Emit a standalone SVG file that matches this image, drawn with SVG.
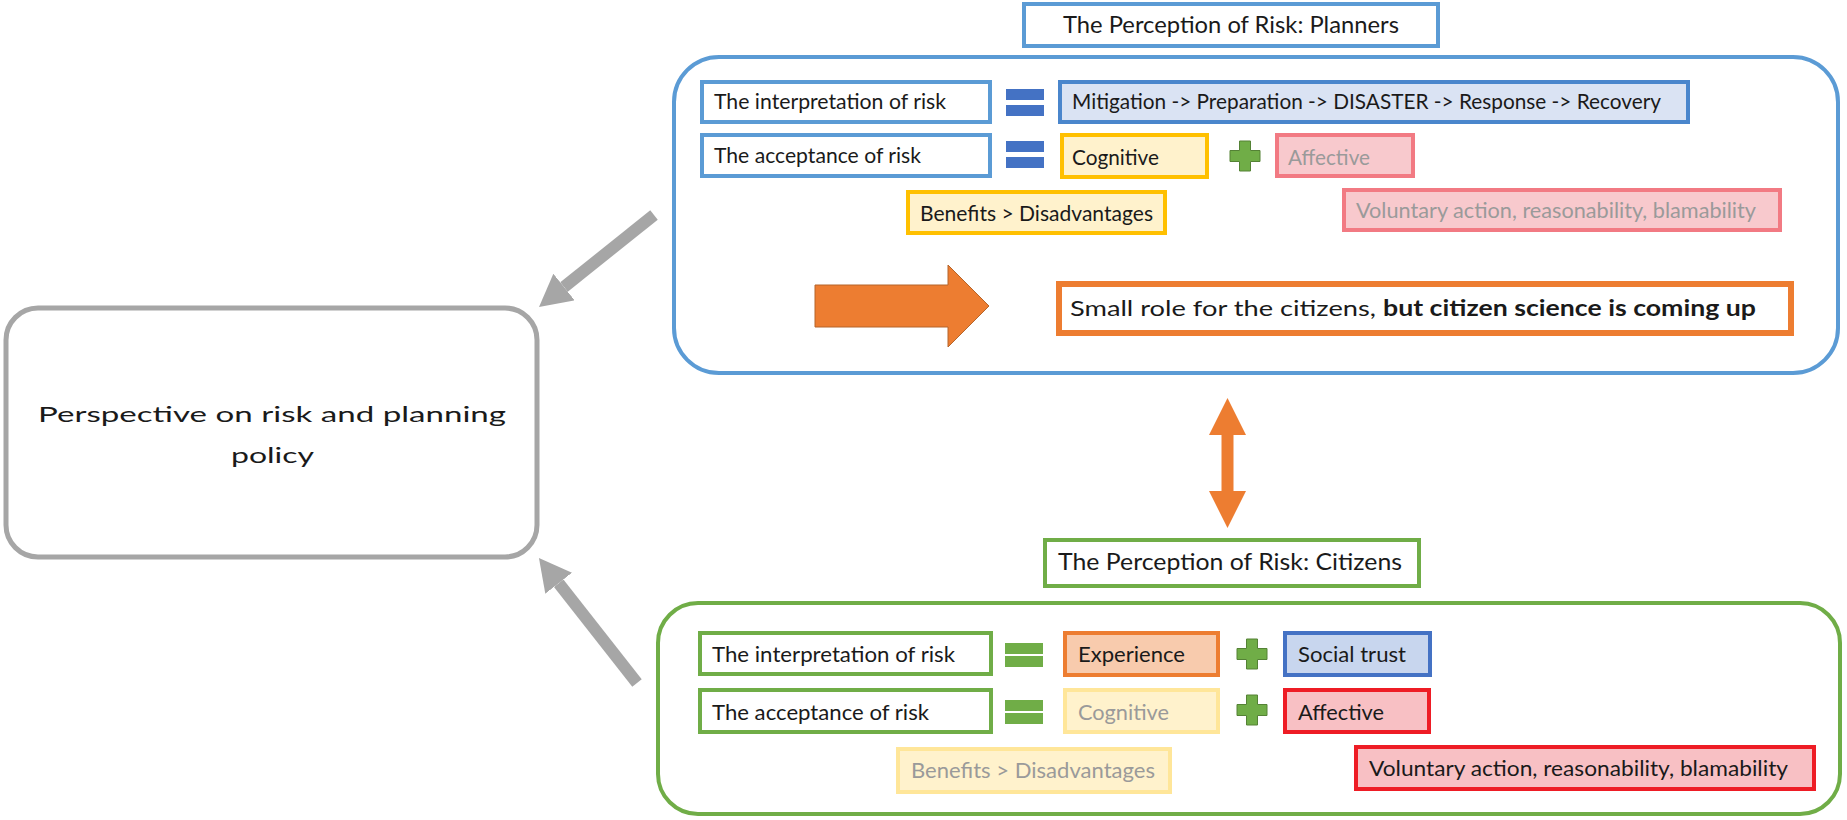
<svg xmlns="http://www.w3.org/2000/svg" xmlns:xlink="http://www.w3.org/1999/xlink" width="1847" height="820" viewBox="0 0 1847 820">
<style>
text{font-family:Lato,"Open Sans","Liberation Sans",sans-serif;fill:#1a1a1a;font-size:22px}
.big{fill:none;stroke-width:4}
.bx{stroke-width:4}
.pl{fill:#fff;stroke:#5b9bd5}
.ci{fill:#fff;stroke:#70ad47}
.yel{fill:#fff2cc;stroke:#ffc000}
.yelf{fill:#fff2cc;stroke:#ffe699}
.pinkf{fill:#f8c9cd;stroke:#f27a83}
.red{fill:#f8c0c4;stroke:#ee1c25}
.grey{fill:#9a9a9a}
.ttl{font-size:24px}
</style>
<defs>
<marker id="gh" markerUnits="userSpaceOnUse" viewBox="0 0 32 34" refX="0" refY="17" markerWidth="32" markerHeight="34" orient="auto"><path d="M0,0 L32,17 L0,34 z" fill="#a6a6a6"/></marker>
<marker id="oh" markerUnits="userSpaceOnUse" viewBox="0 0 37 37" refX="0" refY="18.5" markerWidth="37" markerHeight="37" orient="auto-start-reverse"><path d="M0,0 L37,18.5 L0,37 z" fill="#ed7d31"/></marker>
<path id="plus" d="M-5.5,-15 H5.5 V-5.5 H15 V5.5 H5.5 V15 H-5.5 V5.5 H-15 V-5.5 H-5.5 z" fill="#70ad47" stroke="#548235" stroke-width="1"/>
<g id="eqb"><rect x="0" y="0" width="38" height="11" fill="#4472c4"/><rect x="0" y="16" width="38" height="11" fill="#4472c4"/></g>
<g id="eqg"><rect x="0" y="0" width="38" height="11" fill="#70ad47"/><rect x="0" y="13" width="38" height="11" fill="#70ad47"/></g>
</defs>

<g id="policy">
<rect x="6" y="308" width="531" height="249" rx="32" fill="#fff" stroke="#a6a6a6" stroke-width="5"/>
<text x="38" y="422" font-size="29" textLength="468" lengthAdjust="spacingAndGlyphs">Perspective on risk and planning</text>
<text x="231" y="463" font-size="29" textLength="83" lengthAdjust="spacingAndGlyphs">policy</text>
</g>

<g id="planners-title">
<rect class="bx pl" x="1024" y="4" width="414" height="42"/>
<text class="ttl" x="1063" y="33" textLength="336" lengthAdjust="spacingAndGlyphs">The Perception of Risk: Planners</text>
</g>
<g id="planners-frame"><rect class="big" x="674" y="57" width="1164" height="316" rx="45" stroke="#5b9bd5"/></g>

<g id="p-interp">
<rect class="bx pl" x="702" y="82" width="288" height="40"/>
<text x="714" y="109" textLength="232" lengthAdjust="spacingAndGlyphs">The interpretation of risk</text>
</g>
<g id="p-eq1"><use xlink:href="#eqb" x="1006" y="89"/></g>
<g id="p-cycle">
<rect class="bx" x="1060" y="82" width="628" height="40" fill="#dae3f3" stroke="#4a86cc"/>
<text x="1072" y="109" textLength="589" lengthAdjust="spacingAndGlyphs">Mitigation -&gt; Preparation -&gt; DISASTER -&gt; Response -&gt; Recovery</text>
</g>
<g id="p-accept">
<rect class="bx pl" x="702" y="135" width="288" height="41"/>
<text x="714" y="163" textLength="207" lengthAdjust="spacingAndGlyphs">The acceptance of risk</text>
</g>
<g id="p-eq2"><use xlink:href="#eqb" x="1006" y="141"/></g>
<g id="p-cognitive">
<rect class="bx yel" x="1062" y="135" width="145" height="42"/>
<text x="1072" y="165" textLength="87" lengthAdjust="spacingAndGlyphs">Cognitive</text>
</g>
<g id="p-plus"><use xlink:href="#plus" x="1245" y="156"/></g>
<g id="p-affective">
<rect class="bx pinkf" x="1277" y="135" width="136" height="41"/>
<text class="grey" x="1288" y="165" textLength="82" lengthAdjust="spacingAndGlyphs">Affective</text>
</g>
<g id="p-benefits">
<rect class="bx yel" x="908" y="192" width="257" height="41"/>
<text x="920" y="221" textLength="233" lengthAdjust="spacingAndGlyphs">Benefits &gt; Disadvantages</text>
</g>
<g id="p-voluntary">
<rect class="bx pinkf" x="1344" y="190" width="436" height="40"/>
<text class="grey" x="1356" y="218" textLength="400" lengthAdjust="spacingAndGlyphs">Voluntary action, reasonability, blamability</text>
</g>
<g id="p-role">
<rect x="1059" y="284" width="732" height="49" fill="#fff" stroke="#ed7d31" stroke-width="6"/>
<text x="1070" y="316" font-size="25"><tspan textLength="306" lengthAdjust="spacingAndGlyphs">Small role for the citizens,</tspan><tspan x="1383" font-weight="bold" textLength="373" lengthAdjust="spacingAndGlyphs">but citizen science is coming up</tspan></text>
</g>

<g id="citizens-title">
<rect class="bx ci" x="1045" y="540" width="374" height="46"/>
<text class="ttl" x="1058" y="570" textLength="344" lengthAdjust="spacingAndGlyphs">The Perception of Risk: Citizens</text>
</g>
<g id="citizens-frame"><rect class="big" x="658" y="603" width="1182" height="211" rx="40" stroke="#70ad47"/></g>

<g id="c-interp">
<rect class="bx ci" x="700" y="633" width="291" height="41"/>
<text x="712" y="662" textLength="243" lengthAdjust="spacingAndGlyphs">The interpretation of risk</text>
</g>
<g id="c-eq1"><use xlink:href="#eqg" x="1005" y="643"/></g>
<g id="c-experience">
<rect class="bx" x="1065" y="633" width="153" height="42" fill="#f8cbad" stroke="#ed7d31"/>
<text x="1078" y="662" textLength="107" lengthAdjust="spacingAndGlyphs">Experience</text>
</g>
<g id="c-plus1"><use xlink:href="#plus" x="1252" y="654"/></g>
<g id="c-trust">
<rect class="bx" x="1285" y="633" width="145" height="42" fill="#c8d6ee" stroke="#4472c4"/>
<text x="1298" y="662" textLength="108" lengthAdjust="spacingAndGlyphs">Social trust</text>
</g>
<g id="c-accept">
<rect class="bx ci" x="700" y="690" width="291" height="42"/>
<text x="712" y="720" textLength="217" lengthAdjust="spacingAndGlyphs">The acceptance of risk</text>
</g>
<g id="c-eq2"><use xlink:href="#eqg" x="1005" y="700"/></g>
<g id="c-cognitive">
<rect class="bx yelf" x="1065" y="690" width="153" height="42"/>
<text class="grey" x="1078" y="720" textLength="91" lengthAdjust="spacingAndGlyphs">Cognitive</text>
</g>
<g id="c-plus2"><use xlink:href="#plus" x="1252" y="710"/></g>
<g id="c-affective">
<rect class="bx red" x="1285" y="690" width="144" height="42"/>
<text x="1298" y="720" textLength="86" lengthAdjust="spacingAndGlyphs">Affective</text>
</g>
<g id="c-benefits">
<rect class="bx yelf" x="898" y="749" width="272" height="43"/>
<text class="grey" x="911" y="778" textLength="244" lengthAdjust="spacingAndGlyphs">Benefits &gt; Disadvantages</text>
</g>
<g id="c-voluntary">
<rect class="bx red" x="1356" y="747" width="458" height="42"/>
<text x="1369" y="776" textLength="419" lengthAdjust="spacingAndGlyphs">Voluntary action, reasonability, blamability</text>
</g>

<g id="connectors">
<line x1="654" y1="215" x2="564" y2="287" stroke="#a6a6a6" stroke-width="12" marker-end="url(#gh)"/>
<line x1="637" y1="683" x2="558.7" y2="583.2" stroke="#a6a6a6" stroke-width="12" marker-end="url(#gh)"/>
<line x1="1227.5" y1="435" x2="1227.5" y2="491" stroke="#ed7d31" stroke-width="12" marker-start="url(#oh)" marker-end="url(#oh)"/>
<polygon points="815,285 948,285 948,265 989,306 948,347 948,327 815,327" fill="#ed7d31" stroke="#b5652a" stroke-width="1"/>
</g>
</svg>
